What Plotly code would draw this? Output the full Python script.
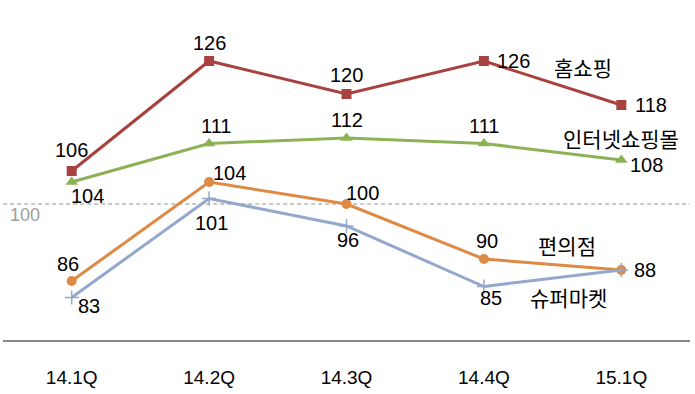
import plotly.graph_objects as go

categories = ["14.1Q", "14.2Q", "14.3Q", "14.4Q", "15.1Q"]
home_shopping = [106, 126, 120, 126, 118]
internet_mall = [104, 111, 112, 111, 108]
convenience = [86, 104, 100, 90, 88]
supermarket = [83, 101, 96, 85, 88]
series_names = ["홈쇼핑", "인터넷쇼핑몰", "편의점", "슈퍼마켓"]
baseline = 100

colors = ["#A8423E", "#8DB255", "#DE8A45", "#94A8CC"]
symbols = ["square", "triangle-up", "circle", "cross-thin"]
msizes = [10, 11, 10, 10]

series = [home_shopping, internet_mall, convenience, supermarket]

# label pixel offsets (dx, dy) for each point
offsets = [
    [(0, 21), (0, 18), (0, 19), (30, 0), (30, 0)],
    [(16, -14), (7, 18), (0, 18), (0, 18), (25, -5)],
    [(-4, 17), (20, 9), (16, 11), (3, 18), (24, 0)],
    [(17, -8), (2, -24), (1, -14), (7, -11), None],
]
name_pos = [(583, 67), (621, 138), (567, 245), (568, 297)]

FONT_NUM = "Liberation Sans, Arial, sans-serif"
FONT_KR = "Noto Sans CJK KR, sans-serif"

fig = go.Figure()
for vals, name, c, sym, ms in zip(series, series_names, colors, symbols, msizes):
    marker = dict(symbol=sym, size=ms, color=c)
    if sym == "cross-thin":
        marker["line"] = dict(color=c, width=1.5)
    fig.add_trace(go.Scatter(
        x=categories, y=vals, mode="lines+markers", name=name,
        line=dict(color=c, width=3), marker=marker, showlegend=False,
    ))

annotations = []
for vals, offs in zip(series, offsets):
    for cat, v, off in zip(categories, vals, offs):
        if off is None:
            continue
        annotations.append(dict(
            x=cat, y=v, xref="x", yref="y", text=str(v), showarrow=False,
            xshift=off[0], yshift=off[1], xanchor="center", yanchor="middle",
            font=dict(family=FONT_NUM, size=20, color="#000000"),
        ))

W, H = 695, 394
ml, mr, mt, mb = 3, 5, 0, 54
pw, ph = W - ml - mr, H - mt - mb
for name, (px, py) in zip(series_names, name_pos):
    annotations.append(dict(
        x=(px - ml) / pw, y=1 - (py - mt) / ph, xref="paper", yref="paper",
        text=name, showarrow=False, xanchor="center", yanchor="middle",
        font=dict(family=FONT_KR, size=21, color="#000000"),
    ))

annotations.append(dict(
    x=(25 - ml) / pw, y=baseline, xref="paper", yref="y", text=str(baseline),
    showarrow=False, yshift=-11, xanchor="center", yanchor="middle",
    font=dict(family=FONT_NUM, size=18, color="#A0A0A0"),
))

fig.add_shape(type="line", xref="paper", yref="y", x0=-0.01, x1=1.0,
              y0=baseline, y1=baseline,
              line=dict(color="#B8B8B8", width=1.5, dash="4px,3px"), layer="below")

y_bottom = 100 - (340 - 204) / 5.5
y_top = 100 + 204 / 5.5

fig.update_layout(
    width=W, height=H,
    margin=dict(l=ml, r=mr, t=mt, b=mb, autoexpand=False),
    paper_bgcolor="white", plot_bgcolor="white",
    annotations=annotations,
    xaxis=dict(
        range=[-0.5, 4.5], showgrid=False, zeroline=False,
        showline=True, linecolor="#888888", linewidth=1.5,
        ticks="", ticklabelstandoff=19,
        tickfont=dict(family=FONT_NUM, size=19, color="#000000"),
    ),
    yaxis=dict(
        range=[y_bottom, y_top], showgrid=False, zeroline=False,
        showline=False, showticklabels=False, ticks="",
    ),
)

fig.write_html("out.html", config={"displayModeBar": False},
               post_script="document.body.style.margin='0';")
